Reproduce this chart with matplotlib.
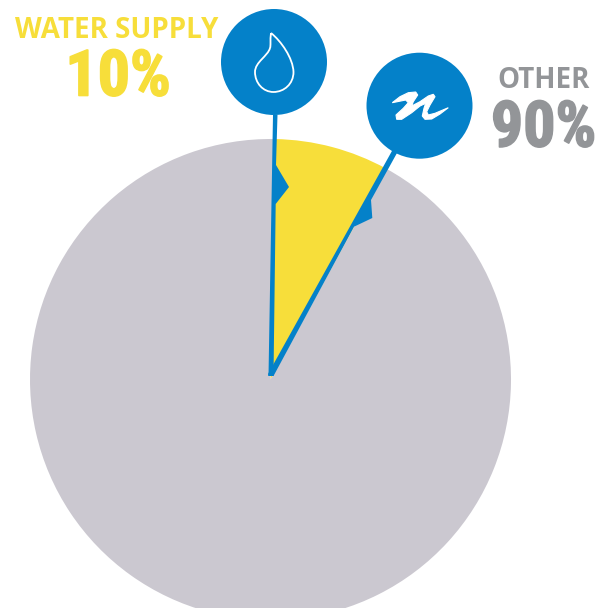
from matplotlib import pyplot as plt
from matplotlib.patches import Circle, PathPatch, Polygon
from matplotlib.path import Path
import matplotlib.patheffects as pe

W, H = 601, 608

# shares as drawn, the slice is narrower than its 10% label
shares = [7.7, 92.3]
share_colors = ['#F7DE3A', '#CBC8D0']
water_title = 'WATER SUPPLY'
water_value = '10%'
other_title = 'OTHER'
other_value = '90%'

BLUE = '#0481C9'
YELLOW = '#F7DE3A'
GREY = '#939598'
NUMBER_FONT = ['Roboto Condensed', 'Open Sans', 'DejaVu Sans']


def py(y):
    # picture pixels count from the top
    return H - y


def pts(xy):
    return [(x, py(y)) for x, y in xy]


fig = plt.figure(figsize=(W / 100, H / 100), dpi=100)
ax = fig.add_axes([0, 0, 1, 1])

ax.pie(shares, colors=share_colors, startangle=89, counterclock=False,
       center=(270.5, py(379.5)), radius=240.5)

# pin lines and the little barbs on them
ax.add_patch(Polygon(pts([(268.5, 376), (273, 115), (277.5, 115), (276, 165), (289, 187),
                          (275.7, 204), (273.5, 376)]), color=BLUE, lw=0))
ax.add_patch(Polygon(pts([(268, 374), (392.5, 150), (397, 153), (371, 200), (372.3, 218),
                          (354, 226.7), (273.5, 376), (268.5, 376)]), color=BLUE, lw=0))

ax.add_patch(Circle((274, py(62)), 53, color=BLUE, lw=0))
ax.add_patch(Circle((419.5, py(105.7)), 53, color=BLUE, lw=0))

# water drop icon
drop = Path(pts([(271, 33), (281, 41), (293, 58), (293.5, 72), (293.5, 84), (284, 92), (273.5, 92),
                 (263, 92), (255, 83), (255, 72), (255, 62), (268, 56), (270, 48), (271, 46), (270, 40), (271, 33)]),
            [Path.MOVETO] + [Path.CURVE4] * 15)
ax.add_patch(PathPatch(drop, fc='none', ec='white', lw=1.3))

# river squiggle icon
squiggle = [(392.3, 102.7), (400, 96.7), (408.3, 92.7), (415.7, 92), (417.7, 95), (413.3, 101.7),
            (411.7, 106), (420, 101.7), (428.3, 96), (433.3, 94.3), (435, 96.7), (430, 105),
            (426.7, 111.7), (428.3, 115), (435, 113.3), (448.3, 107.7), (440, 114), (431.7, 119),
            (425, 119.3), (422.3, 116), (424, 108.3), (425.7, 103.3), (420, 106), (411.7, 112.7),
            (401.7, 119.3), (396.7, 119.3), (396, 115), (403.3, 108.3), (408.3, 102.7), (405.7, 100)]
ax.add_patch(Polygon(pts(squiggle), fc='white', ec='white', lw=0.8))

ax.text(117, py(31), water_title, color=YELLOW, fontsize=20, family='Open Sans', weight='bold',
        ha='center', va='center')
ax.text(118, py(78), water_value, color=YELLOW, fontsize=46, family=NUMBER_FONT, weight='bold',
        ha='center', va='center', path_effects=[pe.withStroke(linewidth=1.2, foreground=YELLOW)])
ax.text(544, py(80), other_title, color=GREY, fontsize=20, family='Open Sans', weight='bold',
        ha='center', va='center')
ax.text(543.5, py(129), other_value, color=GREY, fontsize=46, family=NUMBER_FONT, weight='bold',
        ha='center', va='center', path_effects=[pe.withStroke(linewidth=1.2, foreground=GREY)])

ax.set_xlim(0, W)
ax.set_ylim(0, H)
ax.set_aspect('equal')
ax.axis('off')

plt.savefig('out.png', dpi=100)
